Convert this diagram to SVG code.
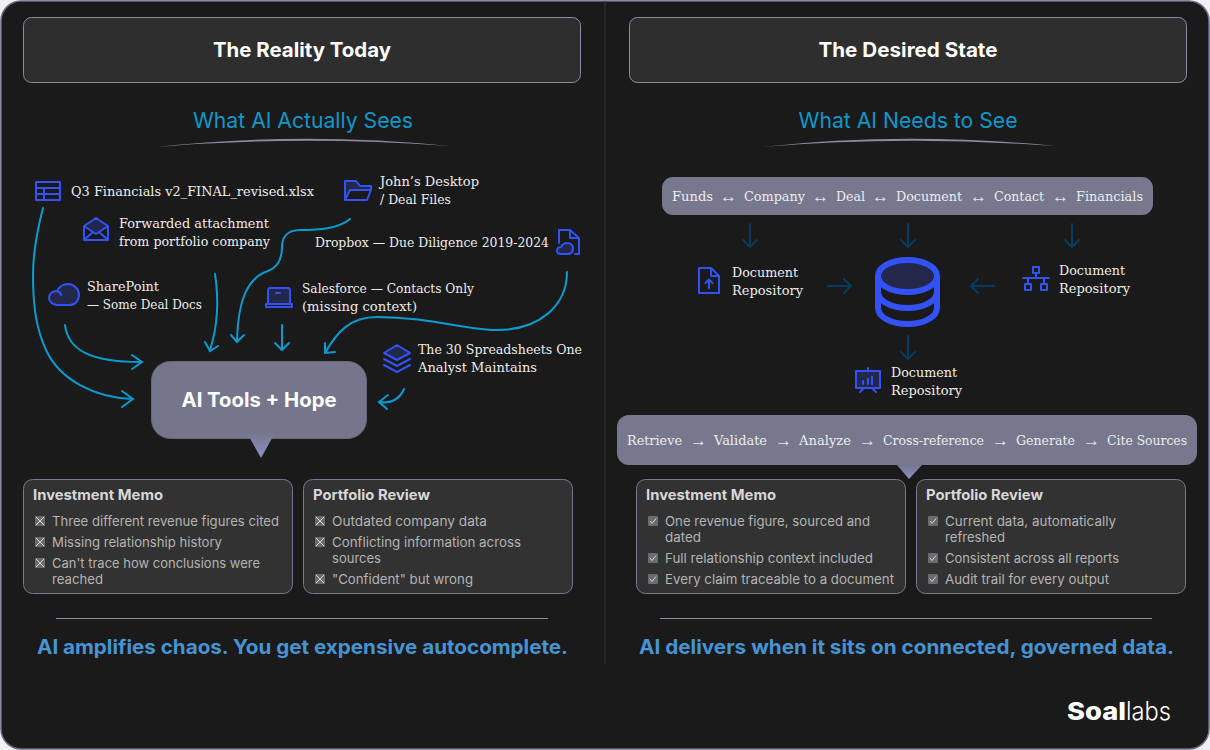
<svg xmlns="http://www.w3.org/2000/svg" width="1210" height="750" viewBox="0 0 1210 750">
<style>
.h{font:700 20px Inter,"Open Sans",sans-serif;fill:#fff;text-anchor:middle}
.sub{font:400 22px Inter,"Open Sans",sans-serif;fill:#0f97c9;text-anchor:middle}
.s{font:400 12.500px "DejaVu Serif","Liberation Serif",serif;fill:#ececec}
.a{font:400 17px "Liberation Sans",sans-serif;fill:#e4e4e4}
.ct{font:700 14px Inter,"Open Sans",sans-serif;fill:#d8d8d8}
.b{font:400 13px Inter,"Open Sans",sans-serif;fill:#b4b4b4}
.foot{font:700 20px Inter,"Open Sans",sans-serif;fill:#4794d4;text-anchor:middle}
.card{fill:#323232;stroke:#77788f;stroke-width:1}
.panel{fill:#2e2e2e;stroke:#8a8ba3;stroke-width:1}
.bar{fill:#77788e}
.ic{fill:none;stroke:#3352f5;stroke-width:2;stroke-linejoin:round;stroke-linecap:round}
.icf{fill:#23274a}
.c{fill:none;stroke:#0a9bd0;stroke-width:2;stroke-linecap:round}
.d{fill:none;stroke:#063c63;stroke-width:2;stroke-linecap:round}
.m{fill:#6b6c70}
.mk{fill:none;stroke:#d8d8d8;stroke-width:1}
</style>
<defs>
<linearGradient id="tri" x1="0" y1="0" x2="0" y2="1"><stop offset="0" stop-color="#76778c"/><stop offset="1" stop-color="#8b90c8"/></linearGradient>
</defs>
<rect width="1210" height="750" fill="#f0f0f4"/>
<rect x="1" y="1" width="1208" height="748" rx="20" fill="#1a1a1a" stroke="#6a6b80" stroke-width="1.500"/>
<line x1="605" y1="1" x2="605" y2="664" stroke="#333"/>

<g id="header-left"><rect class="panel" x="23.500" y="17.500" width="557" height="65" rx="8"/><text class="h" x="302" y="57" textLength="178" lengthAdjust="spacingAndGlyphs">The Reality Today</text></g>
<g id="header-right"><rect class="panel" x="629.500" y="17.500" width="557" height="65" rx="8"/><text class="h" x="908" y="57" textLength="179" lengthAdjust="spacingAndGlyphs">The Desired State</text></g>

<g id="subtitle-left"><text class="sub" x="303" y="128" textLength="220" lengthAdjust="spacingAndGlyphs">What AI Actually Sees</text><path d="M156 147Q300 131 450 146 Q300 135 156 147Z" fill="#8a8ba3"/></g>
<g id="subtitle-right"><text class="sub" x="908" y="128" textLength="219" lengthAdjust="spacingAndGlyphs">What AI Needs to See</text><path d="M761 147Q905 131 1055 146 Q905 135 761 147Z" fill="#8a8ba3"/></g>

<g id="connectors">
<path class="c" d="M43 208C36 235 33 260 33 275C33 310 37 330 46 350C60 380 95 398 133 399M122 391L133 399L122 407"/>
<path class="c" d="M65 325C68 350 90 362 141 362M132 355L142 362L132 369"/>
<path class="c" d="M215 274C219 300 218 325 210 350M205 342L210 351L218 346"/>
<path class="c" d="M350 219C338 229 318 230 300 230C285 230 282 240 282 247C282 262 276 268 268 271C250 277 238 295 237 342M231 335L237 342L244 335"/>
<path class="c" d="M282 325V350M275 343L282 350L289 343"/>
<path class="c" d="M567 272C567 305 540 330 497 330C465 330 430 317 377 317C350 317 337 332 325 353M325 343L325 353L335 352"/>
<path class="c" d="M404 389C400 398 392 404 379 402M388 395L379 402L387 409"/>
<path class="d" d="M750 224V247M743 240L750 247L757 240"/>
<path class="d" d="M908 224V247M901 240L908 247L915 240"/>
<path class="d" d="M1072 224V247M1065 240L1072 247L1079 240"/>
<path class="d" d="M828 286H851M844 279L851 286L844 293"/>
<path class="d" d="M994 286H971M978 279L971 286L978 293"/>
<path class="d" d="M908 336V359M901 352L908 359L915 352"/>
</g>

<g id="src-q3"><rect class="ic" x="36" y="182" width="24" height="18"/><path class="ic" d="M36 188H60M36 194H60M44 188V200"/><text class="s" x="71" y="196" textLength="243" lengthAdjust="spacingAndGlyphs">Q3 Financials v2_FINAL_revised.xlsx</text></g>
<g id="src-forward"><path class="icf" d="M84 226L96 218L108 226L96 235Z"/><path class="ic" d="M84 226L96 218L108 226V240H84ZM84 226L96 234L108 226M84 240L93 232M108 240L99 232"/><text class="s" x="119" y="228" textLength="150" lengthAdjust="spacingAndGlyphs">Forwarded attachment</text><text class="s" x="119" y="246" textLength="151" lengthAdjust="spacingAndGlyphs">from portfolio company</text></g>
<g id="src-john"><path class="icf" d="M345 181H356L360 186H371V190H349L345 199Z"/><path class="ic" d="M345 200V181H356L360 186H371V190M345 200L350 190H371L367 200Z"/><text class="s" x="380" y="186" textLength="99" lengthAdjust="spacingAndGlyphs">John’s Desktop</text><text class="s" x="380" y="204" textLength="71" lengthAdjust="spacingAndGlyphs">/ Deal Files</text></g>
<g id="src-dropbox"><path class="ic" d="M559 243V230H570L579 238V254H575M570 230V238H579"/><path class="ic" style="fill:#23274a" d="M561 254H568C572 254 573 251 573 248C573 245 570 243 567 243C564 243 562 245 561 247C558 247 557 249 557 251C557 253 559 254 561 254Z"/><text class="s" x="315" y="247" textLength="234" lengthAdjust="spacingAndGlyphs">Dropbox — Due Diligence 2019-2024</text></g>
<g id="src-sharepoint"><path class="ic" style="fill:#23274a" d="M58 305H70C76 305 79 300 79 295C79 289 74 284 68 284C63 284 59 287 57 291C52 291 49 294 49 298C49 302 53 305 58 305Z"/><path class="ic" d="M57 291C60 292 61 294 61 295"/><text class="s" x="87" y="291" textLength="72" lengthAdjust="spacingAndGlyphs">SharePoint</text><text class="s" x="87" y="309" textLength="115" lengthAdjust="spacingAndGlyphs">— Some Deal Docs</text></g>
<g id="src-salesforce"><path class="icf" d="M268 288H290V303H268Z"/><path class="ic" d="M268 303V290Q268 288 270 288H288Q290 288 290 290V303M266 304H292V307H266ZM276 293H280"/><text class="s" x="302" y="293" textLength="172" lengthAdjust="spacingAndGlyphs">Salesforce — Contacts Only</text><text class="s" x="302" y="311" textLength="115" lengthAdjust="spacingAndGlyphs">(missing context)</text></g>
<g id="src-spreadsheets"><path class="icf" d="M397 345L410 353L397 360L384 353Z"/><path class="ic" d="M397 345L410 353L397 360L384 353ZM384 359L397 366L410 359M384 365L397 372L410 365"/><text class="s" x="418" y="354" textLength="164" lengthAdjust="spacingAndGlyphs">The 30 Spreadsheets One</text><text class="s" x="418" y="372" textLength="119" lengthAdjust="spacingAndGlyphs">Analyst Maintains</text></g>

<g id="ai-tools"><rect x="151.500" y="361.500" width="215" height="77" rx="19" fill="#75768b" stroke="#66677a"/><text x="259" y="407" text-anchor="middle" style="font:700 20px Inter,sans-serif;fill:#fff" textLength="155" lengthAdjust="spacingAndGlyphs">AI Tools + Hope</text><path d="M247 433H275L261 458Z" fill="url(#tri)"/></g>

<g id="card-lm"><rect class="card" x="23.500" y="479.500" width="269" height="114" rx="9"/><text class="ct" x="33" y="500" textLength="130" lengthAdjust="spacingAndGlyphs">Investment Memo</text>
<rect class="m" x="35" y="516" width="10" height="10"/><path class="mk" d="M36 517L44 525M44 517L36 525"/><text class="b" x="52" y="526" textLength="227" lengthAdjust="spacingAndGlyphs">Three different revenue figures cited</text>
<rect class="m" x="35" y="537" width="10" height="10"/><path class="mk" d="M36 538L44 546M44 538L36 546"/><text class="b" x="52" y="547" textLength="170" lengthAdjust="spacingAndGlyphs">Missing relationship history</text>
<rect class="m" x="35" y="558" width="10" height="10"/><path class="mk" d="M36 559L44 567M44 559L36 567"/><text class="b" x="52" y="568" textLength="208" lengthAdjust="spacingAndGlyphs">Can't trace how conclusions were</text><text class="b" x="52" y="584" textLength="51" lengthAdjust="spacingAndGlyphs">reached</text></g>
<g id="card-lp"><rect class="card" x="303.500" y="479.500" width="269" height="114" rx="9"/><text class="ct" x="313" y="500" textLength="117" lengthAdjust="spacingAndGlyphs">Portfolio Review</text>
<rect class="m" x="315" y="516" width="10" height="10"/><path class="mk" d="M316 517L324 525M324 517L316 525"/><text class="b" x="332" y="526" textLength="155" lengthAdjust="spacingAndGlyphs">Outdated company data</text>
<rect class="m" x="315" y="537" width="10" height="10"/><path class="mk" d="M316 538L324 546M324 538L316 546"/><text class="b" x="332" y="547" textLength="189" lengthAdjust="spacingAndGlyphs">Conflicting information across</text><text class="b" x="332" y="563" textLength="49" lengthAdjust="spacingAndGlyphs">sources</text>
<rect class="m" x="315" y="574" width="10" height="10"/><path class="mk" d="M316 575L324 583M324 575L316 583"/><text class="b" x="332" y="584" textLength="141" lengthAdjust="spacingAndGlyphs">"Confident" but wrong</text></g>

<line x1="56" y1="618.500" x2="548" y2="618.500" stroke="#8a8ba3"/>
<text class="foot" x="302.500" y="654" textLength="531" lengthAdjust="spacingAndGlyphs">AI amplifies chaos. You get expensive autocomplete.</text>

<g id="ontology"><rect class="bar" x="662" y="177" width="491" height="38" rx="11"/><text class="s" x="672" y="201" textLength="41" lengthAdjust="spacingAndGlyphs">Funds</text><text class="a" x="720" y="202" textLength="17" lengthAdjust="spacingAndGlyphs">↔</text><text class="s" x="744" y="201" textLength="61" lengthAdjust="spacingAndGlyphs">Company</text><text class="a" x="812" y="202" textLength="17" lengthAdjust="spacingAndGlyphs">↔</text><text class="s" x="836" y="201" textLength="29" lengthAdjust="spacingAndGlyphs">Deal</text><text class="a" x="872" y="202" textLength="17" lengthAdjust="spacingAndGlyphs">↔</text><text class="s" x="896" y="201" textLength="66" lengthAdjust="spacingAndGlyphs">Document</text><text class="a" x="970" y="202" textLength="17" lengthAdjust="spacingAndGlyphs">↔</text><text class="s" x="994" y="201" textLength="50" lengthAdjust="spacingAndGlyphs">Contact</text><text class="a" x="1052" y="202" textLength="17" lengthAdjust="spacingAndGlyphs">↔</text><text class="s" x="1076" y="201" textLength="67" lengthAdjust="spacingAndGlyphs">Financials</text></g>

<g id="repo-left"><path class="ic" d="M699 268H711L719 276V293H699ZM711 268V276H719M709 288V280M705.500 283L709 279.500L712.500 283"/><text class="s" x="732" y="277" textLength="66" lengthAdjust="spacingAndGlyphs">Document</text><text class="s" x="732" y="295" textLength="71" lengthAdjust="spacingAndGlyphs">Repository</text></g>
<g id="database"><ellipse cx="907.500" cy="276" rx="29.500" ry="16" fill="#23274a"/><path d="M878 276A29.500 16 0 0 1 937 276V308A29.500 16 0 0 1 878 308ZM878 276A29.500 16 0 0 0 937 276M878 292A29.500 16 0 0 0 937 292" fill="none" stroke="#3352f5" stroke-width="6"/></g>
<g id="repo-right"><path class="ic" d="M1023 278H1049M1036 273V278M1028 278V284M1044 278V284"/><rect class="ic" x="1033" y="267" width="6" height="6"/><rect class="ic" x="1025" y="284" width="6" height="6"/><rect class="ic" x="1041" y="284" width="6" height="6"/><text class="s" x="1059" y="275" textLength="66" lengthAdjust="spacingAndGlyphs">Document</text><text class="s" x="1059" y="293" textLength="71" lengthAdjust="spacingAndGlyphs">Repository</text></g>
<g id="repo-bottom"><rect class="icf" x="856" y="371" width="24" height="17"/><path class="ic" d="M856 371H880V388H856ZM868 368V371M860 392L864 388M876 392L872 388M863 384V381M868 384V379M872 384V377"/><text class="s" x="891" y="377" textLength="66" lengthAdjust="spacingAndGlyphs">Document</text><text class="s" x="891" y="395" textLength="71" lengthAdjust="spacingAndGlyphs">Repository</text></g>

<g id="pipeline"><rect class="bar" x="617" y="415" width="580" height="50" rx="12"/><text class="s" x="627" y="445" textLength="55" lengthAdjust="spacingAndGlyphs">Retrieve</text><text class="a" x="690" y="446" textLength="17" lengthAdjust="spacingAndGlyphs">→</text><text class="s" x="714" y="445" textLength="53" lengthAdjust="spacingAndGlyphs">Validate</text><text class="a" x="775" y="446" textLength="17" lengthAdjust="spacingAndGlyphs">→</text><text class="s" x="799" y="445" textLength="52" lengthAdjust="spacingAndGlyphs">Analyze</text><text class="a" x="859" y="446" textLength="17" lengthAdjust="spacingAndGlyphs">→</text><text class="s" x="883" y="445" textLength="101" lengthAdjust="spacingAndGlyphs">Cross-reference</text><text class="a" x="992" y="446" textLength="17" lengthAdjust="spacingAndGlyphs">→</text><text class="s" x="1016" y="445" textLength="59" lengthAdjust="spacingAndGlyphs">Generate</text><text class="a" x="1083" y="446" textLength="17" lengthAdjust="spacingAndGlyphs">→</text><text class="s" x="1107" y="445" textLength="80" lengthAdjust="spacingAndGlyphs">Cite Sources</text><path d="M897 465H922L909 479Z" fill="url(#tri)"/></g>

<g id="card-rm"><rect class="card" x="636.500" y="479.500" width="269" height="114" rx="9"/><text class="ct" x="646" y="500" textLength="130" lengthAdjust="spacingAndGlyphs">Investment Memo</text>
<rect class="m" x="648" y="516" width="10" height="10" rx="1"/><path class="mk" d="M650 521L652 523.500L656 518.500"/><text class="b" x="665" y="526" textLength="205" lengthAdjust="spacingAndGlyphs">One revenue figure, sourced and</text><text class="b" x="665" y="542" textLength="36" lengthAdjust="spacingAndGlyphs">dated</text>
<rect class="m" x="648" y="553" width="10" height="10" rx="1"/><path class="mk" d="M650 558L652 560.500L656 555.500"/><text class="b" x="665" y="563" textLength="208" lengthAdjust="spacingAndGlyphs">Full relationship context included</text>
<rect class="m" x="648" y="574" width="10" height="10" rx="1"/><path class="mk" d="M650 579L652 581.500L656 576.500"/><text class="b" x="665" y="584" textLength="229" lengthAdjust="spacingAndGlyphs">Every claim traceable to a document</text></g>
<g id="card-rp"><rect class="card" x="916.500" y="479.500" width="269" height="114" rx="9"/><text class="ct" x="926" y="500" textLength="117" lengthAdjust="spacingAndGlyphs">Portfolio Review</text>
<rect class="m" x="928" y="516" width="10" height="10" rx="1"/><path class="mk" d="M930 521L932 523.500L936 518.500"/><text class="b" x="945" y="526" textLength="171" lengthAdjust="spacingAndGlyphs">Current data, automatically</text><text class="b" x="945" y="542" textLength="60" lengthAdjust="spacingAndGlyphs">refreshed</text>
<rect class="m" x="928" y="553" width="10" height="10" rx="1"/><path class="mk" d="M930 558L932 560.500L936 555.500"/><text class="b" x="945" y="563" textLength="174" lengthAdjust="spacingAndGlyphs">Consistent across all reports</text>
<rect class="m" x="928" y="574" width="10" height="10" rx="1"/><path class="mk" d="M930 579L932 581.500L936 576.500"/><text class="b" x="945" y="584" textLength="164" lengthAdjust="spacingAndGlyphs">Audit trail for every output</text></g>

<line x1="660" y1="618.500" x2="1152" y2="618.500" stroke="#8a8ba3"/>
<text class="foot" x="906.500" y="654" textLength="535" lengthAdjust="spacingAndGlyphs">AI delivers when it sits on connected, governed data.</text>

<g id="logo"><text x="1067" y="720" style="font:800 25px Inter,sans-serif;fill:#fff" textLength="59" lengthAdjust="spacingAndGlyphs">Soal</text><text x="1126" y="720" style="font:300 25px Inter,sans-serif;fill:#fff" textLength="45" lengthAdjust="spacingAndGlyphs">labs</text></g>
</svg>
